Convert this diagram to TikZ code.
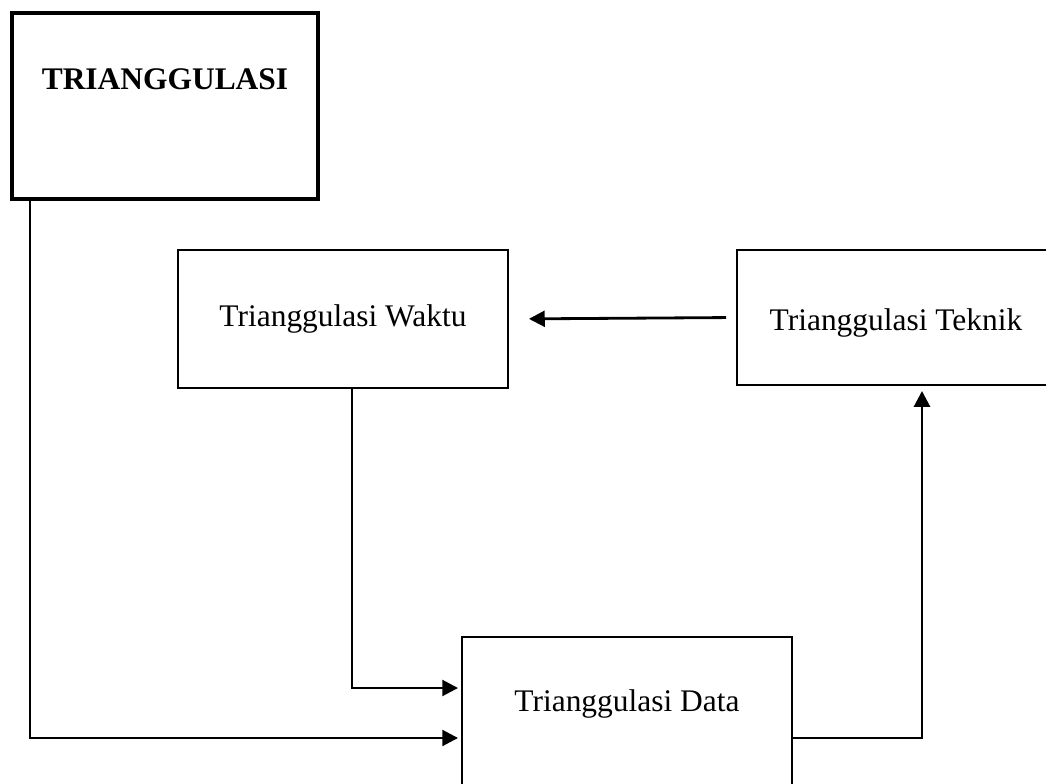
\documentclass[tikz,border=0pt]{standalone}
\usepackage{fontspec}
\setmainfont{Liberation Serif}
\usetikzlibrary{arrows.meta}

\begin{document}
\begin{tikzpicture}[x=0.02cm, y=-0.02cm,
    box/.style={draw, line width=1.1pt, inner sep=0pt},
    flow/.style={line width=1.6pt, -{Triangle[length=9pt,width=9pt]}}]
   % page
   \useasboundingbox (0,0) rectangle (1046,784);
   \clip (0,0) rectangle (1046,784);
   \fontsize{17.9}{21}\selectfont

   % boxes
   \node[box, line width=2.3pt, minimum width=6.12cm, minimum height=3.72cm] (tri) at (165,106) {};
   \node[box, minimum width=6.6cm, minimum height=2.76cm] (waktu) at (343,319) {Trianggulasi Waktu};
   \node[box, minimum width=6.36cm, minimum height=2.7cm] (teknik) at (896,317.5) {};
   \node[box, minimum width=6.6cm, minimum height=3.46cm] (data) at (627,723.5) {};

   % labels
   \node[font=\bfseries] (tritext) at ([yshift=-1.36cm]tri.north) {TRIANGGULASI};
   \node (teknik text) at ([yshift=-0.1cm]teknik.center) {Trianggulasi Teknik};
   \node (datatext) at ([yshift=-1.36cm]data.north) {Trianggulasi Data};

   % connectors
   \draw[flow, shorten >=0.06cm] ([xshift=0.4cm]tri.south west) |- ([yshift=-0.29cm]data.west);
   \draw[flow, shorten >=0.06cm] ([xshift=0.18cm]waktu.south) |- ([yshift=0.71cm]data.west);
   \draw[flow, shorten <=0.2cm, shorten >=0.4cm] (teknik.west) -- (waktu.east);
   \draw[flow, shorten >=0.1cm] ([yshift=-0.29cm]data.east) -| ([xshift=0.52cm]teknik.south);
\end{tikzpicture}
\end{document}
